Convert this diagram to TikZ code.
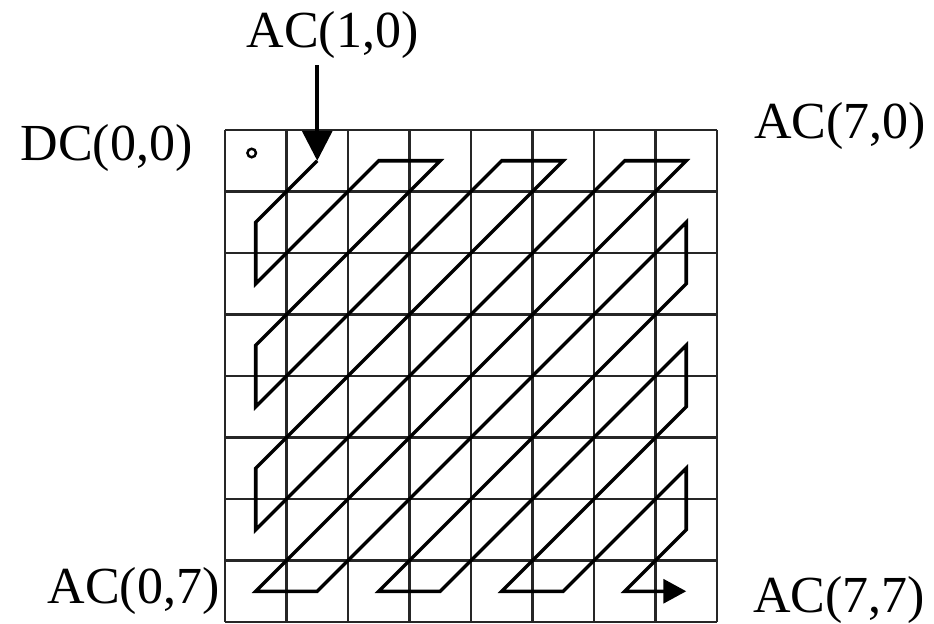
\documentclass[tikz,border=0pt]{standalone}
\usepackage{fontspec}
\setmainfont{Liberation Serif}
\usetikzlibrary{arrows.meta, calc}
\tikzset{
    gridline/.style={draw=black!85, line width=1.4pt},
    zigzag/.style={line width=2pt, line join=miter},
    coeflabel/.style={font=\fontsize{29.6}{35}\selectfont, inner sep=0pt, anchor=base},
    dcmark/.style={circle, draw, line width=1.4pt, minimum size=0.17cm, inner sep=0pt},
    bigarr/.style={-{Triangle[length=0.6cm, width=0.6cm]}, line width=2pt},
    endarr/.style={-{Triangle[length=0.46cm, width=0.48cm]}},
}

\begin{document}
\begin{tikzpicture}[x=0.02cm, y=-0.02cm]
  \useasboundingbox (0,0) rectangle (934,623);

  % 8x8 block
  \foreach \i in {0,...,8} {
    \draw[gridline] ({225+61.5*\i},130) -- ({225+61.5*\i},622);
    \draw[gridline] (225,{130+61.5*\i}) -- (717,{130+61.5*\i});
  }
  \foreach \c in {0,...,7}
    \foreach \r in {0,...,7}
      \coordinate (c\c\r) at ({225+61.5*(\c+0.5)},{130+61.5*(\r+0.5)});

  \node[dcmark] (dc) at (251.7,153) {};

  % labels
  \node[coeflabel] (dc00) at (106.5,160) {DC(0,0)};
  \node[coeflabel] (ac10) at (332.5,47) {AC(1,0)};
  \node[coeflabel] (ac70) at (840,138) {AC(7,0)};
  \node[coeflabel] (ac07) at (133.5,603) {AC(0,7)};
  \node[coeflabel] (ac77) at (839,612) {AC(7,7)};

  \draw[bigarr, shorten <=0.14cm] (ac10.south -| c10) -- (c10);

  % zig-zag scan
  \draw[zigzag, endarr] (c10) -- (c01) -- (c02) -- (c20) -- (c30) -- (c03)
    -- (c04) -- (c40) -- (c50) -- (c05) -- (c06) -- (c60) -- (c70) -- (c07)
    -- (c17) -- (c71) -- (c72) -- (c27) -- (c37) -- (c73) -- (c74) -- (c47)
    -- (c57) -- (c75) -- (c76) -- (c67) -- (c77);

\end{tikzpicture}
\end{document}
